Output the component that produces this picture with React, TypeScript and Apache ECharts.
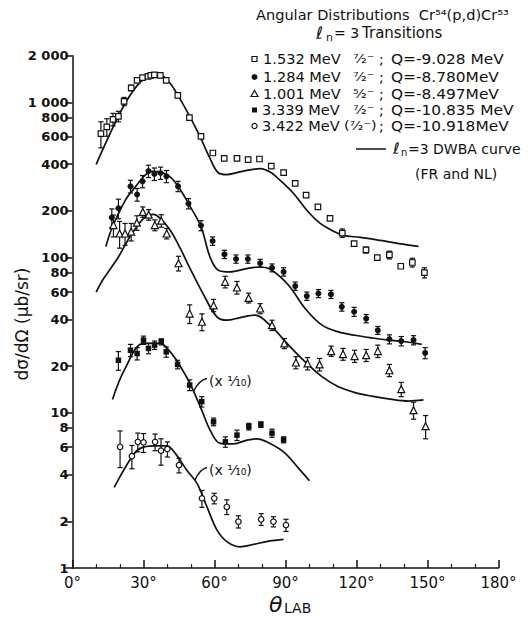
import { useEffect, useRef } from "react";
import * as echarts from "echarts";

const INK = "#111";
const FONT = "DejaVu Sans";

const yTickValues = [1, 2, 4, 6, 8, 10, 20, 40, 60, 80, 100, 200, 400, 600, 800, 1000, 2000];

// 1.532 MeV (open squares)
const s1Theta = [12.0, 14.5, 17.1, 19.4, 21.8, 24.8, 27.3, 29.6, 31.9, 33.1, 34.6, 37.1, 39.6, 44.5, 49.4, 54.3, 59.3, 64.1, 69.5, 74.2, 79.0, 84.0, 89.2, 94.1, 98.7, 103.7, 108.8, 114.0, 119.0, 124.0, 128.8, 133.9, 138.7, 143.6, 148.7];
const s1Value = [630, 695, 778, 813, 1016, 1239, 1387, 1445, 1472, 1494, 1504, 1494, 1387, 1111, 798, 605, 472, 436, 436, 428, 432, 389, 353, 301, 253, 212, 179, 144, 123, 112, 100, 104, 88, 93, 80];
const s1Error = [120, 90, 72, 63, 61, 50, 0, 0, 0, 0, 0, 0, 0, 0, 0, 0, 0, 0, 0, 0, 0, 0, 0, 0, 0, 0, 0, 9, 0, 5, 0, 6, 0, 6, 6];

// 1.284 MeV (filled circles)
const s2Theta = [16.6, 19.4, 24.5, 27.3, 29.6, 32.1, 34.6, 37.2, 39.7, 44.6, 49.0, 54.3, 59.2, 64.2, 69.1, 74.1, 79.3, 84.3, 89.2, 94.1, 99.0, 103.9, 109.2, 113.8, 119.0, 124.1, 129.0, 133.9, 138.9, 144.1, 149.0];
const s2Value = [181, 208, 288, 255, 310, 361, 346, 351, 334, 288, 223, 161, 128, 105, 98, 98, 92, 86, 81, 65.6, 56.5, 58.7, 58, 48.2, 44.8, 40.5, 34, 29.8, 29, 29.4, 24.3];
const s2Error = [25, 30, 27, 24, 28, 33, 32, 32, 30, 22, 17, 12, 8, 6.5, 6, 6, 5.5, 5, 5, 4, 3.5, 3.5, 3.5, 3, 3, 2.5, 2, 2, 2, 2, 2];

// 1.001 MeV (open triangles)
const s3Theta = [17.3, 19.9, 22.2, 24.8, 27.2, 29.7, 32.2, 34.8, 37.5, 39.8, 44.8, 49.5, 54.7, 59.6, 64.5, 69.5, 74.4, 79.3, 84.3, 89.5, 94.4, 99.3, 104.4, 109.3, 114.3, 119.2, 124.1, 129.0, 133.9, 138.9, 144.1, 149.2];
const s3Value = [162, 143, 143, 147, 168, 197, 189, 162, 173, 143, 92, 43.6, 38.6, 49.3, 69.8, 64.2, 55, 47, 36.7, 28, 21.1, 20.8, 20.5, 25, 23.9, 23.2, 23.5, 25, 18.8, 14.2, 10.4, 8.2];
const s3Error = [26, 28, 23, 19, 18, 15, 15, 13, 16, 11, 10, 6, 4.8, 4.5, 6, 6, 4, 3.5, 2.8, 2.1, 1.9, 1.9, 1.9, 1.9, 2.1, 2.1, 2.1, 2.3, 1.7, 1.5, 1.3, 1.4];

// 3.339 MeV (filled squares, x 1/10)
const s4Theta = [19.4, 24.5, 27.3, 30.0, 32.1, 34.7, 37.5, 39.6, 44.4, 49.5, 54.6, 59.6, 64.6, 69.5, 74.5, 79.6, 84.3, 89.2];
const s4Value = [21.8, 25.3, 24.1, 29.4, 26, 27.3, 28.7, 24.7, 20.5, 15.1, 11.8, 8.75, 6.5, 7.18, 8.15, 8.4, 7.4, 6.7];
const s4Error = [3, 2.3, 2.2, 1.8, 2, 1.7, 1.3, 1.9, 1.3, 1.2, 0.9, 0.5, 0.5, 0.55, 0.4, 0.35, 0.45, 0.3];

// 3.422 MeV (open circles, x 1/10)
const s5Theta = [20.1, 25.1, 27.6, 30.0, 34.9, 37.4, 40.1, 45.0, 54.7, 59.9, 65.2, 70.1, 79.7, 84.9, 90.2];
const s5Value = [6.04, 5.26, 6.5, 6.45, 6.5, 5.7, 5.84, 4.6, 2.81, 2.81, 2.48, 1.99, 2.06, 1.99, 1.89];
const s5Error = [1.6, 0.9, 0.9, 0.9, 0.8, 1.1, 0.65, 0.5, 0.35, 0.22, 0.27, 0.18, 0.18, 0.15, 0.17];

// DWBA curves
const c1Theta = [10, 17.3, 23, 28.6, 32.8, 35.7, 39.9, 44.1, 49.7, 54, 57.5, 61.7, 65.2, 69.5, 73.7, 79.3, 83.5, 87.7, 93.4, 99, 104.7, 110.3, 114.5, 121.6, 130, 138, 146.2];
const c1Value = [399, 700, 1032, 1352, 1494, 1520, 1405, 1140, 805, 597, 456, 351, 343, 353, 365, 375, 356, 315, 259, 202, 166, 148, 139, 135, 129, 123, 118];
const c2Theta = [14.1, 16.6, 22.3, 26.5, 30.7, 33.6, 37.1, 41.3, 45.5, 49, 54.3, 58.1, 61.6, 66.5, 73.6, 79.2, 84.2, 91.3, 98.3, 105.4, 112.4, 119.4, 126.5, 133.5, 140.6, 147.6];
const c2Value = [118, 154, 234, 285, 340, 360, 356, 331, 275, 223, 158, 101, 83, 81, 85, 87, 83, 66.4, 47, 36.7, 33.2, 31.6, 30.4, 29.4, 28.7, 27.6];
const c3Theta = [10, 13.1, 19.4, 25.1, 30.7, 34.2, 37.1, 41.3, 45.5, 49.7, 55.3, 61.0, 65.2, 70.9, 77.1, 84.2, 91.3, 98.3, 105.4, 112.4, 119.4, 126.5, 133.5, 142, 148.3];
const c3Value = [60, 73, 101, 143, 183, 190, 179, 150, 115, 85, 58, 41.5, 39.5, 41.1, 42.6, 35.8, 27.3, 21.3, 17.1, 14.7, 13.5, 12.8, 12.3, 11.9, 12.1];
const c4Theta = [16.9, 22, 30, 37, 41.3, 44.8, 49.6, 54.6, 58.2, 62.4, 68, 73.7, 78, 82.1, 89.2, 96.2, 100.1];
const c4Value = [12.2, 19, 28, 28, 24.7, 20.8, 15.5, 10.4, 7.7, 6.35, 6.3, 6.67, 6.8, 6.5, 5.6, 4.27, 3.65];
const c5Theta = [17.6, 25.1, 28.6, 34.2, 39.9, 43.4, 48.3, 52.6, 56.8, 61, 65.2, 70.8, 76.5, 83, 89.2];
const c5Value = [3.31, 5.21, 5.9, 6.13, 6.13, 5.48, 4.27, 3.51, 2.48, 1.76, 1.48, 1.37, 1.42, 1.49, 1.53];

const zip = (a: number[], b: number[], c?: number[]) =>
  a.map((t, i) => (c ? [t, b[i], c[i]] : [t, b[i]]));

function errorBars(theta: number[], val: number[], err: number[]) {
  return {
    type: "custom",
    silent: true,
    z: 2,
    data: zip(theta, val, err),
    encode: { x: 0, y: 1 },
    renderItem: (_p: any, api: any) => {
      const t = api.value(0);
      const v = api.value(1);
      const e = api.value(2);
      if (!e) return { type: "group", children: [] };
      const top = api.coord([t, v + e]);
      const bot = api.coord([t, Math.max(v - e, 1.0001)]);
      const cap = 2.6;
      const st = { stroke: INK, lineWidth: 1.2 };
      return {
        type: "group",
        children: [
          { type: "line", shape: { x1: top[0], y1: top[1], x2: bot[0], y2: bot[1] }, style: st },
          { type: "line", shape: { x1: top[0] - cap, y1: top[1], x2: top[0] + cap, y2: top[1] }, style: st },
          { type: "line", shape: { x1: bot[0] - cap, y1: bot[1], x2: bot[0] + cap, y2: bot[1] }, style: st },
        ],
      };
    },
  };
}

function marks(theta: number[], val: number[], symbol: string, size: number, filled: boolean) {
  return {
    type: "scatter",
    z: 3,
    symbol,
    symbolSize: size,
    data: zip(theta, val),
    itemStyle: {
      color: filled ? INK : "#fff",
      borderColor: INK,
      borderWidth: filled ? 0 : 1.2,
      opacity: 1,
    },
  };
}

function curve(theta: number[], val: number[]) {
  return {
    type: "line",
    z: 1,
    data: zip(theta, val),
    showSymbol: false,
    smooth: 0.35,
    lineStyle: { color: INK, width: 1.7 },
  };
}

const txt = (x: number, y: number, text: string, fontSize = 14, extra: any = {}, sx = 1) => ({
  type: "text",
  x,
  y,
  scaleX: sx,
  style: {
    text,
    fontSize,
    fontFamily: FONT,
    fill: INK,
    verticalAlign: "middle",
    align: "left",
    ...extra,
  },
});

export default function App() {
  const ref = useRef<HTMLDivElement>(null);
  useEffect(() => {
    if (!ref.current) return;
    const chart = echarts.init(ref.current, null, { renderer: "svg" });
    const rows = [
      { y: 59, e: "1.532 MeV", ex: 263, j: "⁷⁄₂⁻", jx: 353, sx: 379, q: "Q=-9.028 MeV" },
      { y: 77, e: "1.284 MeV", ex: 263, j: "⁷⁄₂⁻", jx: 353, sx: 379, q: "Q=-8.780MeV" },
      { y: 94, e: "1.001 MeV", ex: 263, j: "⁵⁄₂⁻", jx: 353, sx: 379, q: "Q=-8.497MeV" },
      { y: 110, e: "3.339 MeV", ex: 262, j: "⁷⁄₂⁻", jx: 353, sx: 379, q: "Q=-10.835 MeV" },
      { y: 126, e: "3.422 MeV", ex: 262, j: "(⁷⁄₂⁻)", jx: 344, sx: 379, q: "Q=-10.918MeV" },
    ];
    const legendTexts: any[] = [];
    rows.forEach((r) => {
      legendTexts.push(txt(r.ex, r.y, r.e, 14, {}, 1.04));
      legendTexts.push(txt(r.jx, r.y - 1, r.j, 13, {}, 1.1));
      legendTexts.push(txt(r.sx, r.y, ";", 14));
      legendTexts.push(txt(391, r.y, r.q, 14, {}, 1.1));
    });
    const legendMarks: any[] = [
      { type: "rect", shape: { x: 252, y: 56.5, width: 5, height: 5 }, style: { fill: "#fff", stroke: INK, lineWidth: 1.2 } },
      { type: "circle", shape: { cx: 254.5, cy: 77, r: 3 }, style: { fill: INK } },
      { type: "polygon", shape: { points: [[254.5, 90.5], [258, 96.5], [251, 96.5]] }, style: { fill: "#fff", stroke: INK, lineWidth: 1.2 } },
      { type: "rect", shape: { x: 252, y: 107.5, width: 5, height: 5 }, style: { fill: INK } },
      { type: "circle", shape: { cx: 254.5, cy: 126, r: 2.6 }, style: { fill: "#fff", stroke: INK, lineWidth: 1.2 } },
    ];
    const option: any = {
      animation: false,
      backgroundColor: "#fff",
      grid: { left: 72.5, right: 29.5, top: 55.7, bottom: 49, containLabel: false },
      xAxis: {
        type: "value",
        min: 0,
        max: 180,
        interval: 30,
        axisLine: { show: true, onZero: false, lineStyle: { color: INK, width: 1.5 } },
        axisTick: { show: true, inside: true, length: 8, lineStyle: { color: INK, width: 1.5 } },
        minorTick: { show: true, splitNumber: 3, length: 4, lineStyle: { color: INK, width: 1.2 } },
        axisLabel: { formatter: "{value}°", fontSize: 15, fontFamily: FONT, color: INK, margin: 7 },
        splitLine: { show: false },
        minorSplitLine: { show: false },
      },
      yAxis: {
        type: "log",
        logBase: 10,
        min: 1,
        max: 2000,
        axisLine: { show: true, lineStyle: { color: INK, width: 1.5 } },
        axisTick: { show: true, inside: false, length: 7, customValues: yTickValues, lineStyle: { color: INK, width: 1.5 } },
        axisLabel: {
          customValues: yTickValues,
          fontSize: 13,
          fontWeight: "bold",
          lineHeight: 13,
          fontFamily: FONT,
          color: INK,
          margin: 4,
          formatter: (v: number) => {
            const r = Math.round(v);
            return r >= 1000 ? `${Math.round(r / 1000)} 000` : String(r);
          },
        },
        splitLine: { show: false },
        minorTick: { show: false },
      },
      series: [
        curve(c1Theta, c1Value),
        curve(c2Theta, c2Value),
        curve(c3Theta, c3Value),
        curve(c4Theta, c4Value),
        curve(c5Theta, c5Value),
        errorBars(s1Theta, s1Value, s1Error),
        errorBars(s2Theta, s2Value, s2Error),
        errorBars(s3Theta, s3Value, s3Error),
        errorBars(s4Theta, s4Value, s4Error),
        errorBars(s5Theta, s5Value, s5Error),
        marks(s1Theta, s1Value, "rect", 5.5, false),
        marks(s2Theta, s2Value, "circle", 6, true),
        marks(s3Theta, s3Value, "triangle", 7, false),
        marks(s4Theta, s4Value, "rect", 5.5, true),
        marks(s5Theta, s5Value, "circle", 5.5, false),
      ],
      graphic: [
        txt(256, 15, "Angular Distributions  Cr⁵⁴(p,d)Cr⁵³", 14, {}, 1.04),
        txt(316, 33, "ℓ", 17),
        txt(326, 37, "n", 11),
        txt(334, 33, "= 3", 14),
        txt(362, 33, "Transitions", 15),
        ...legendTexts,
        ...legendMarks,
        { type: "line", shape: { x1: 356, y1: 149, x2: 386, y2: 149 }, style: { stroke: INK, lineWidth: 1.5 } },
        txt(393, 148, "ℓ", 16),
        txt(401, 152, "n", 10),
        txt(408, 149, "=3 DWBA curve", 14),
        txt(415, 174, "(FR and NL)", 14),
        // (x 1/10) annotations
        { type: "bezierCurve", shape: { x1: 193.5, y1: 391.5, cpx1: 199, cpy1: 380, x2: 207, y2: 378.5 }, style: { stroke: INK, lineWidth: 1.3, fill: "none" } },
        txt(209, 381, "(x ¹⁄₁₀)", 14),
        { type: "bezierCurve", shape: { x1: 195, y1: 480, cpx1: 200, cpy1: 469, x2: 207, y2: 467.5 }, style: { stroke: INK, lineWidth: 1.3, fill: "none" } },
        txt(209, 470, "(x ¹⁄₁₀)", 14),
        // axis names
        {
          type: "text",
          x: 22,
          y: 324,
          rotation: Math.PI / 2,
          style: { text: "dσ/dΩ (μb/sr)", fontSize: 17, fontFamily: FONT, fill: INK, align: "center", verticalAlign: "middle" },
        },
        txt(269, 604, "θ", 22, { fontStyle: "italic" }),
        txt(284, 608, "LAB", 14),
      ],
    };
    chart.setOption(option);
    return () => chart.dispose();
  }, []);
  return <div ref={ref} style={{ position: "fixed", left: 0, top: 0, width: 528, height: 617, background: "#fff" }} />;
}
